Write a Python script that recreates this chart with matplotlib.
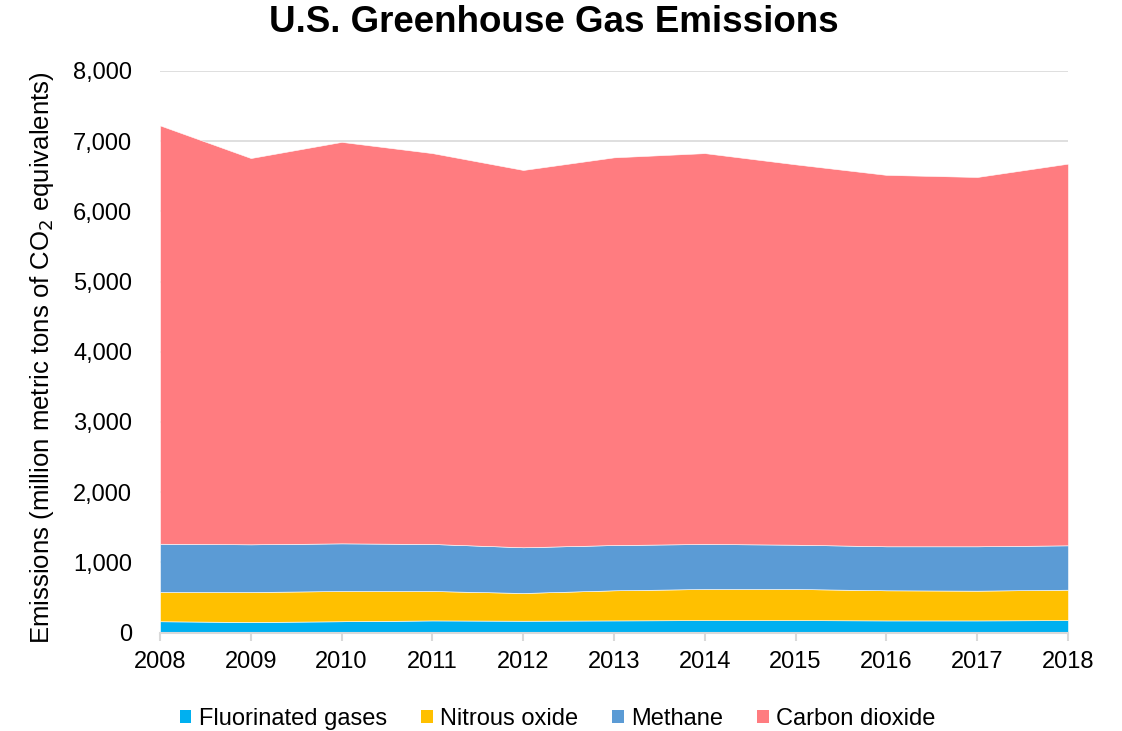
import matplotlib.pyplot as plt
from matplotlib.patches import Patch

# data (million metric tons CO2 eq.)
years = [2008, 2009, 2010, 2011, 2012, 2013, 2014, 2015, 2016, 2017, 2018]
fluorinated = [160, 150, 160, 172, 168, 172, 176, 176, 172, 172, 176]
nitrous_top = [577, 577, 591, 591, 563, 601, 620, 620, 601, 596, 610]
methane_top = [1265, 1256, 1270, 1261, 1214, 1246, 1261, 1251, 1228, 1228, 1242]
total = [7225, 6760, 6990, 6830, 6590, 6770, 6830, 6670, 6520, 6490, 6680]

nitrous = [t - f for t, f in zip(nitrous_top, fluorinated)]
methane = [m - n for m, n in zip(methane_top, nitrous_top)]
carbon = [t - m for t, m in zip(total, methane_top)]

labels = ["Fluorinated gases", "Nitrous oxide", "Methane", "Carbon dioxide"]
colors = ["#00b0f0", "#ffc000", "#5b9bd5", "#ff7c80"]

plt.rcParams['font.family'] = ['Liberation Sans', 'DejaVu Sans']

fig = plt.figure(figsize=(11.22, 7.31), dpi=100)
ax = fig.add_axes([160 / 1122, 1 - 632.5 / 731, 908 / 1122, 561.5 / 731])

ax.stackplot(years, fluorinated, nitrous, methane, carbon, colors=colors,
             edgecolor='white', linewidth=0.4, zorder=2)

ax.set_xlim(2008, 2018)
ax.set_ylim(0, 8000)
ax.set_xticks(years)
ax.set_yticks(range(0, 8001, 1000))
ax.set_yticklabels([f"{v:,}" for v in range(0, 8001, 1000)])
ax.grid(axis='y', color='#d9d9d9', linewidth=1.2, zorder=1)
ax.set_axisbelow(True)

for s in ['top', 'right', 'left']:
    ax.spines[s].set_visible(False)
ax.spines['bottom'].set_color('#d9d9d9')
ax.spines['bottom'].set_linewidth(1.5)
ax.spines['bottom'].set_zorder(3)

ax.tick_params(axis='y', length=0, labelsize=17, pad=20)
ax.tick_params(axis='x', length=6, width=1.5, color='#d9d9d9', labelsize=17, pad=7)

ax.set_ylabel("Emissions (million metric tons of CO$_2$ equivalents)", fontsize=18.5)
ax.yaxis.set_label_coords(-(160 - 56) / 908, 0.5 - 6 / 561.5)

fig.text(0.494, 1 - 23 / 731, "U.S. Greenhouse Gas Emissions", fontsize=26.5,
         fontweight='bold', ha='center', va='center')

handles = [Patch(facecolor=c, edgecolor='none') for c in colors]
fig.legend(handles, labels, loc='center', bbox_to_anchor=(0.497, 1 - 719 / 731), ncol=4,
           frameon=False, fontsize=17, handlelength=0.5, handleheight=0.5,
           handletextpad=0.3, columnspacing=1.45, borderpad=0)

fig.savefig("out.png", dpi=100)
